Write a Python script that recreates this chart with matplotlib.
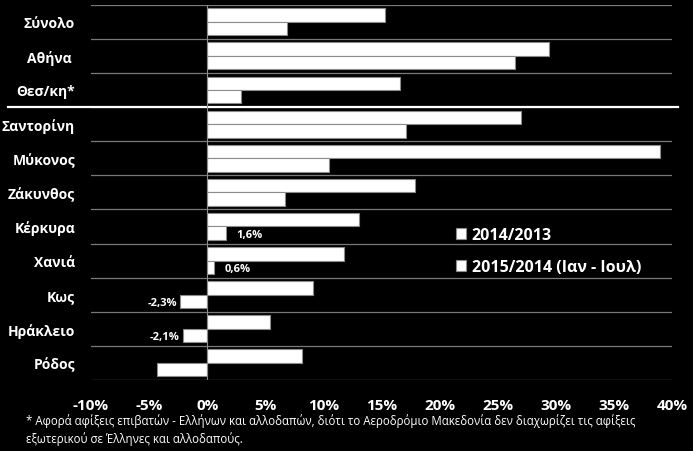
import matplotlib.pyplot as plt
import numpy as np

plt.rcParams['font.family'] = ['Open Sans', 'DejaVu Sans']

categories = ["Σύνολο", "Αθήνα ", "Θεσ/κη*", "Σαντορίνη", "Μύκονος", "Ζάκυνθος",
              "Κέρκυρα", "Χανιά", "Κως", "Ηράκλειο", "Ρόδος"]
growth_2014 = [15.3, 29.4, 16.6, 27.0, 39.0, 17.9, 13.1, 11.8, 9.1, 5.4, 8.2]
growth_2015 = [6.9, 26.5, 2.9, 17.1, 10.5, 6.7, 1.6, 0.6, -2.3, -2.1, -4.3]
labelled = {6: "1,6%", 7: "0,6%", 8: "-2,3%", 9: "-2,1%"}
xticks = [-10, -5, 0, 5, 10, 15, 20, 25, 30, 35, 40]
footnote = ("* Αφορά αφίξεις επιβατών - Ελλήνων και αλλοδαπών, διότι το Αεροδρόμιο Μακεδονία δεν διαχωρίζει τις αφίξεις\n"
            "εξωτερικού σε Έλληνες και αλλοδαπούς.")

fig = plt.figure(figsize=(6.93, 4.52), dpi=100, facecolor="black")
ax = fig.add_axes([91 / 693, 1 - 381 / 452, 581 / 693, 375.3 / 452], facecolor="black")

y = np.arange(len(categories))
h = 0.395
ax.barh(y - h / 2, growth_2014, height=h, color="white", edgecolor="#8c8c8c", linewidth=0.8,
        label="2014/2013", zorder=3)
ax.barh(y + h / 2, growth_2015, height=h, color="white", edgecolor="#8c8c8c", linewidth=0.8,
        label="2015/2014 (Ιαν - Ιουλ)", zorder=3)

for i, txt in labelled.items():
    v = growth_2015[i]
    if v >= 0:
        ax.text(v + 0.9, i + h / 2 + 0.03, txt, color="white", fontsize=8, fontweight="bold",
                ha="left", va="center")
    else:
        ax.text(v - 0.3, i + h / 2 + 0.03, txt, color="white", fontsize=8, fontweight="bold",
                ha="right", va="center")

ax.set_xlim(-10, 40)
ax.set_ylim(len(categories) - 0.5, -0.5)
for b in np.arange(-0.5, len(categories) + 0.5, 1):
    ax.axhline(b, color="#7a7a7a", linewidth=0.9, zorder=1)
ax.axhline(2.5, xmin=-0.143, xmax=1.01, color="white", linewidth=1.6, clip_on=False, zorder=4)
ax.axvline(0, color="#8c8c8c", linewidth=0.8, zorder=4)

ax.set_yticks(y)
ax.set_yticklabels(categories, color="white", fontsize=10, fontweight="bold")
ax.set_xticks(xticks)
ax.set_xticklabels([f"{t}%" for t in xticks], color="white", fontsize=11, fontweight="bold")
ax.tick_params(length=0)
ax.tick_params(axis="x", pad=13)
ax.tick_params(axis="y", pad=11.5)
for s in ax.spines.values():
    s.set_visible(False)

ax.legend(loc="upper left", bbox_to_anchor=(0.603, 0.445), frameon=False, labelcolor="white",
          prop={"size": 11.5, "weight": "bold"}, handlelength=0.65, handleheight=0.65,
          handletextpad=0.35, labelspacing=1.0)

fig.text(26 / 693, 1 - 414 / 452, footnote, color="white", fontsize=8.3, va="top",
         linespacing=1.4)

fig.savefig("out.png", dpi=100, facecolor="black")
